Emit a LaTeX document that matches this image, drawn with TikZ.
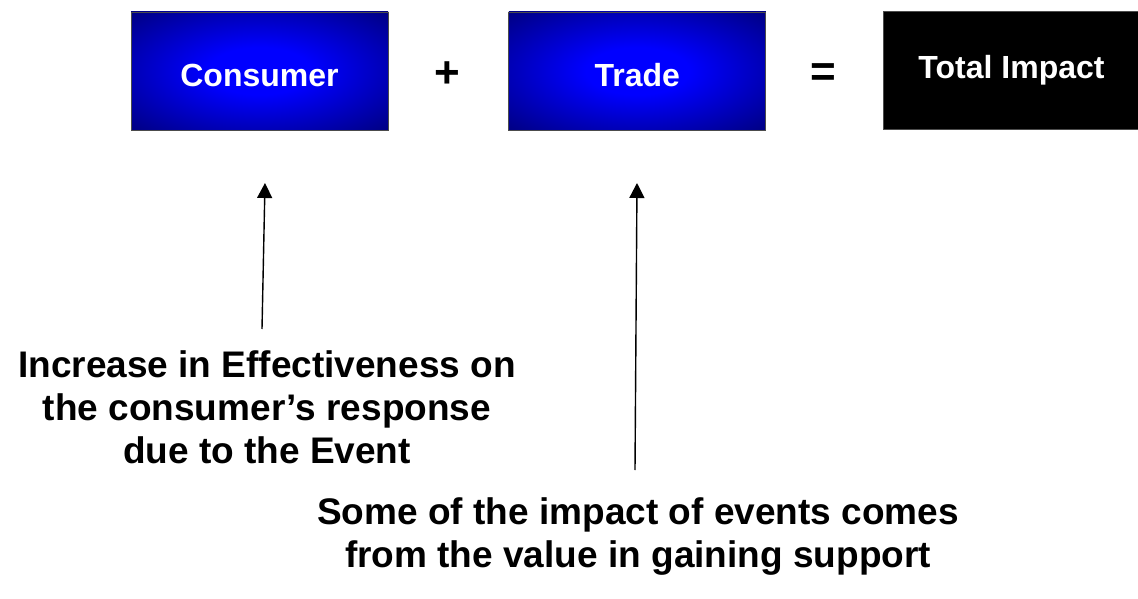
\documentclass[tikz,border=0pt]{standalone}
\usepackage{fontspec}
\setmainfont{Liberation Sans}
\usetikzlibrary{arrows.meta, positioning}

\definecolor{glowblue}{RGB}{0,0,255}
\definecolor{edgeblue}{RGB}{0,0,118}
\pgfdeclareradialshading{boxglow}{\pgfpoint{0bp}{0bp}}{%
  color(0bp)=(glowblue); color(10bp)=(glowblue); color(38bp)=(edgeblue); color(50bp)=(edgeblue!85!black); color(72bp)=(edgeblue!85!black)}

\begin{document}
\begin{tikzpicture}[
    x=1pt, y=1pt,
    >={Triangle[width=15pt,length=15pt]},
    impactbox/.style={draw=black!70, line width=0.8pt, rectangle, minimum width=257pt, minimum height=118pt, align=center, text=white, font=\fontsize{32}{38}\selectfont\bfseries},
    bluebox/.style={impactbox, shading=boxglow},
    totalbox/.style={impactbox, fill=black},
    opsign/.style={font=\fontsize{44}{50}\selectfont\bfseries},
    note/.style={align=center, font=\fontsize{37}{43}\selectfont\bfseries},
    pointer/.style={->, line width=1.4pt}
]
\useasboundingbox (0,0) rectangle (1138,598);

% Top row
\node[bluebox] (consumer) at (259.5,527) {\raisebox{-4pt}[\height][\depth]{Consumer}};
\node[bluebox, right=120pt of consumer] (trade) {\raisebox{-4pt}[\height][\depth]{Trade}};
\node[totalbox] (total) at (1011.5,528) {Total Impact};
\node[opsign] (plus) at (447,523) {+};
\node[opsign] (equals) at (823,523) {=};

% Notes
\node[note] (effect) at (267,191) {Increase in Effectiveness on\\ the consumer's response\\ due to the Event};
\node[note] (support) at (638,61) {Some of the impact of events comes\\ from the value in gaining support};

% Arrows
\coordinate (effecttail) at (262,269);
\coordinate (effecthead) at (265,415);
\coordinate (supporttail) at (635,128);
\coordinate (supporthead) at (637,415);
\draw[pointer] (effecttail) -- (effecthead);
\draw[pointer] (supporttail) -- (supporthead);

\end{tikzpicture}
\end{document}
